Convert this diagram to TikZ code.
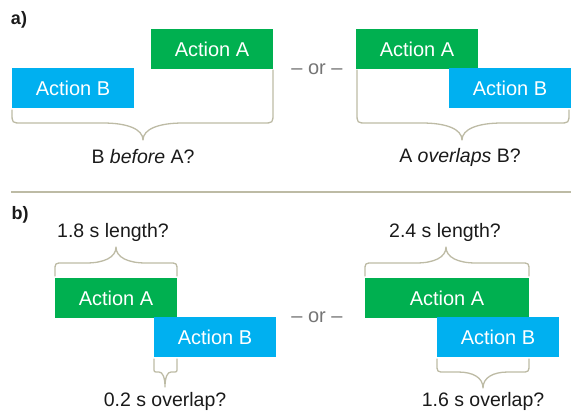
\documentclass[tikz,border=0pt]{standalone}
\usepackage{fontspec}
\setmainfont{Liberation Sans}
\definecolor{agreen}{HTML}{00B050}
\definecolor{bblue}{HTML}{00B0F0}
\definecolor{bracecol}{HTML}{BDBBA5}
\definecolor{txt}{HTML}{1A1A1A}
\definecolor{orgray}{HTML}{757575}
\tikzset{
  boxA/.style={fill=agreen, text=white, minimum width=122pt, minimum height=40pt, inner sep=0pt, font=\fontsize{20}{23}\selectfont},
  boxB/.style={fill=bblue, text=white, minimum width=122pt, minimum height=40pt, inner sep=0pt, font=\fontsize{20}{23}\selectfont},
  lbl/.style={text=txt, inner sep=0pt, font=\fontsize{19.5}{22}\selectfont},
  ortext/.style={text=orgray, inner sep=0pt, font=\fontsize{20}{23}\selectfont},
  panel/.style={text=txt, inner sep=0pt, font=\bfseries\fontsize{18}{21}\selectfont},
  bracepath/.style={draw=bracecol, line width=1.3pt, line join=round, line cap=round},
}
% x1,x2,xm,yl,yr,yb,ytip,r,w
\newcommand\mybrace[9]{%
  \pgfmathsetmacro\bs{(#7-#6)/abs(#7-#6)}%
  \draw[bracepath] (#1,#4) -- ({#1},{#6-\bs*#8}) .. controls (#1,#6) .. ({#1+#8},#6)
    -- ({#3-#9},#6) .. controls ({#3-0.4*#9},#6) and (#3,{#6+0.35*(#7-#6)}) .. (#3,#7)
    .. controls (#3,{#6+0.35*(#7-#6)}) and ({#3+0.4*#9},#6) .. ({#3+#9},#6)
    -- ({#2-#8},#6) .. controls (#2,#6) .. ({#2},{#6-\bs*#8}) -- (#2,#5);}
\begin{document}
\begin{tikzpicture}[x=1pt,y=-1pt]
\useasboundingbox (0,0) rectangle (571,413);
% panel a
\node[panel] (pa) at (19,20) {a)};
\node[boxA] (a1A) at (212,49) {Action A};
\node[boxB] (a1B) at (73,88) {Action B};
\node[ortext] (or1) at (317,69) {– or –};
\node[boxA] (a2A) at (417,49) {Action A};
\node[boxB] (a2B) at (510,88) {Action B};
\mybrace{12}{273}{143}{110}{70}{123}{140}{10}{40}
\mybrace{357}{569}{462}{70}{110}{123}{140}{10}{40}
\node[lbl] (qa1) at (143,157) {B \textit{before} A?};
\node[lbl] (qa2) at (460,157) {A \textit{overlaps} B?};
% separator
\coordinate (s1) at (11,192);
\coordinate (s2) at (571,192);
\draw[draw=bracecol, line width=2pt] (s1) -- (s2);
% panel b
\node[panel] (pb) at (20,215) {b)};
\node[boxA] (b1A) at (116,298) {Action A};
\node[boxB] (b1B) at (215,337) {Action B};
\mybrace{55}{177}{116}{276}{276}{263}{247}{8}{30}
\mybrace{154}{177}{165}{359}{359}{372}{387}{4}{6}
\node[lbl] (l1) at (113,232) {1.8 s length?};
\node[lbl] (o1) at (165,401) {0.2 s overlap?};
\node[ortext] (or2) at (317,317) {– or –};
\node[boxA, minimum width=164pt] (b2A) at (447,298) {Action A};
\node[boxB] (b2B) at (498,337) {Action B};
\mybrace{365}{529}{446}{276}{276}{263}{247}{8}{30}
\mybrace{437}{529}{483}{359}{359}{372}{388}{8}{25}
\node[lbl] (l2) at (445,232) {2.4 s length?};
\node[lbl] (o2) at (483,401) {1.6 s overlap?};
\end{tikzpicture}
\end{document}
